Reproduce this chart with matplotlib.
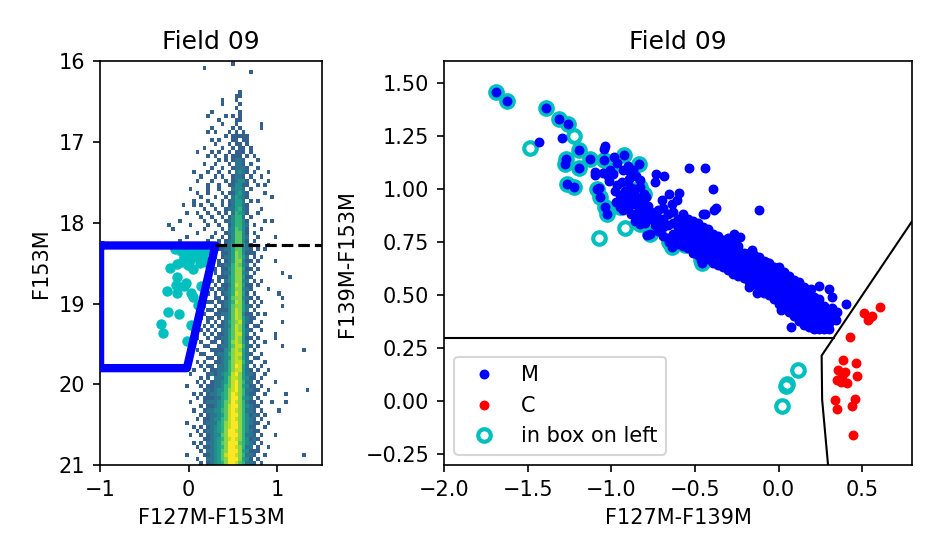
import numpy as np
import matplotlib
matplotlib.use("Agg")
import matplotlib.pyplot as plt
from matplotlib.colors import Normalize

# ---------------- data ----------------
title = "Field 09"

# Left panel: 2D histogram of F127M-F153M vs F153M, stored as per-row counts
hist_col_edges_start, hist_col_step, hist_ncol = -0.36, 0.04, 44
hist_mag_start, hist_mag_step = 16.0, 0.05
# each row: "col" (count 1), "col:level", "a-b:level"
hist_rows = [
    "21", "13", "26", "", "", "", "", "23", "22 23", "18 22",
    "18 23", "22", "15 23", "14 19 21 23", "17 22 23", "18 22 29", "15 21 23 29",
    "14 16 20 22 24", "19 21-25", "15 17 21 22 24 25",
    "16 20 22 23 25", "13 18 21 23 24 26", "11 15 17 20 22-24 26",
    "14 16 19 21-23 25 27", "17 19 21 22:2 23:2 24 28", "13 16 20 22:2 23:2 24 26",
    "15 18 21 22:2 23:2 24:2 25 28", "10 14 17 20 22:2 23:3 24:2 25 27 31",
    "12 16 18 21 22:2 23:2 24 26 29", "11 15 19 21 22:2 23:3 24:3 25 27 31",
    "14 17 20 21 22:3 23:3 24 25 28 30",
    "9 14 17 21:2 22:3 23:3 24:2 26",
    "11 14 18 20 21 22:3 23:4 24:2 25 30",
    "12 16 19 21:2 22:4 23:3 24:2 25 32",
    "10 14 18 20 21:2 22:4 23:4 24:2 26 28",
    "7 10 12 15 18 20 21:2 22:4 23:4 24:2 25",
    "13 16 19 20:2 21:2 22:4 23:5 24:2 25 29",
    "8 11 14 17 19 21:2 22:5 23:4 24:3 25 28",
    "12 15 18 20 21:3 22:5 23:5 24:2 26",
    "6 13 16 19 20:2 21:3 22:5 23:5 24:3 25 30 32",
    "3 9 14 17 20 21:3 22:5 23:5 24:3 25:2 27",
    "4 13 18 20:2 21:3 22:6 23:5 24:3 25 29",
    "11 16 19 20:2 21:3 22:6 23:6 24:3 25 27",
    "8 15 18 20 21:3 22:6 23:6 24:3 25:2 28 33",
    "6 14 17 19 20:2 21:3 22:6 23:6 24:3 25 27",
    "10 17 19 20:2 21:4 22:6 23:6 24:4 25:2 26 31",
    "15 17 18 19:2 20:2 21:4 22:6 23:6 24:3 25:2 26 28 30",
    "16 18 19 20:2 21:4 22:7 23:6 24:3 25 26 27",
    "16 18 19:2 20:2 21:4 22:7 23:6 24:4 25:2 27 29",
    "15 17 19 20:2 21:4 22:7 23:7 24:3 25 26 28 33",
    "17 18 19:2 20:2 21:5 22:7 23:6 24:3 25:2 27",
    "15 16 18 19 20:3 21:5 22:7 23:7 24:4 25 26 28",
    "16 18 19:2 20:2 21:5 22:7 23:7 24:3 25:2 27 35",
    "17 18 19 20:3 21:5 22:7 23:7 24:4 25 26 37",
    "15 17 19:2 20:3 21:5 22:7 23:7 24:3 25:2 27 29",
    "16 18 19 20:2 21:5 22:8 23:7 24:4 25 26 28",
    "15 17 18:2 19 20:3 21:5 22:7 23:7 24:3 25:2 26 31",
    "14 16 18 19:2 20:3 21:5 22:8 23:7 24:4 25 27 34",
    "16 17 19 20:3 21:6 22:7 23:7 24:3 25:2 26 28 35",
    "14 15 17 18 19:2 20:3 21:5 22:8 23:7 24:4 25 27 29",
    "13 16 18 19:2 20:3 21:6 22:7 23:7 24:4 25:2 26 28 35",
    "14 15 17 18 19 20:3 21:6 22:8 23:7 24:4 25:2 27",
    "13 16 17 18:2 19:2 20:3 21:6 22:8 23:7 24:3 25 26 28 30",
    "12 14 15 17 19:2 20:3 21:6 22:8 23:7 24:4 25:2 26 27",
    "14 16 18 19:2 20:4 21:6 22:7 23:8 24:4 25:2 26 29 35",
    "13 15 17 18 19:2 20:3 21:6 22:8 23:7 24:4 25 27 28",
    "12 14 16 18:2 19:2 20:4 21:6 22:8 23:7 24:4 25:2 26 29",
    "13 15 17 18 19:2 20:4 21:6 22:8 23:8 24:4 25:2 27 33",
    "11 14 16 17 18:2 19:2 20:4 21:6 22:8 23:7 24:4 25 26 28 33",
    "12 15 16 18 19:2 20:4 21:7 22:8 23:7 24:4 25:2 27 30",
    "13 14 17 18:2 19:2 20:4 21:6 22:8 23:8 24:5 25:2 26 28 35",
    "11 15 16 17 18 19:3 20:4 21:7 22:8 23:7 24:4 25:2 27 41",
    "12 13 16 17:2 18:2 19:3 20:5 21:7 22:8 23:8 24:4 25:2 26 29",
    "14 15 17 18:2 19:3 20:4 21:7 22:8 23:7 24:4 25:2 27 28",
    "11 13 16 17 18:2 19:3 20:5 21:7 22:8 23:8 24:5 25:2 26 30",
    "12 14 15 17:2 18:2 19:3 20:5 21:7 22:9 23:8 24:4 25:2 27 29",
    "10 13 15 16 17:2 18:2 19:3 20:5 21:7 22:8 23:8 24:4 25:2 26 28 31",
    "9 14 15:2 16 17:2 18:3 19:4 20:5 21:8 22:9 23:7 24:4 25:2 26:2 27 30",
    "12 14 16:2 17:2 18:2 19:4 20:6 21:8 22:8 23:7 24:4 25:3 26 27 29",
    "11 13 15 16:2 17:2 18:3 19:4 20:6 21:8 22:9 23:7 24:5 25:2 26:2 28 33",
    "8 12 14 15 16:2 17:2 18:3 19:5 20:6 21:8 22:9 23:7 24:4 25:3 26 27 29",
    "13 14:2 15 16:2 17:3 18:3 19:5 20:7 21:8 22:9 23:7 24:5 25:2 26:2 27 28 31 42",
    "10 12 14 15:2 16:2 17:3 18:4 19:5 20:7 21:9 22:8 23:7 24:5 25:2 26 27 30 36",
    "11 13 14 15 16:2 17:2 18:4 19:5 20:7 21:9 22:9 23:7 24:4 25:3 26:2 28",
    "9 13 14:2 15:2 16:2 17:3 18:4 19:6 20:7 21:9 22:8 23:7 24:5 25:2 26 27 29 32 36",
    "12 14 15 16:2 17:3 18:4 19:6 20:8 21:9 22:9 23:7 24:5 25:3 26:2 27 28",
    "10 13 14:2 15:2 16:3 17:3 18:5 19:6 20:8 21:9 22:8 23:7 24:5 25:2 26:2 27 29 34",
    "12 14 15:2 16:2 17:3 18:4 19:6 20:8 21:9 22:9 23:7 24:5 25:3 26 27:2 28 30",
    "11 13 14 15:2 16:3 17:3 18:5 19:6 20:8 21:9 22:8 23:7 24:5 25:3 26:2 27 29",
    "8 13 14:2 15:2 16:2 17:4 18:5 19:7 20:8 21:9 22:9 23:7 24:5 25:3 26:2 27 28 31",
    "10 12 14 15:2 16:3 17:4 18:5 19:7 20:8 21:9 22:9 23:7 24:5 25:3 26 27 30",
    "11 13 14:2 15:2 16:3 17:4 18:5 19:7 20:9 21:9 22:8 23:7 24:5 25:3 26:2 27 28",
    "9 12 14 15:2 16:3 17:3 18:6 19:7 20:9 21:9 22:9 23:7 24:5 25:2 26:2 27 29 33",
    "13 14 15:2 16:3 17:4 18:5 19:7 20:8 21:9 22:8 23:7 24:5 25:3 26 27:2 28",
    "10 12 14:2 15:2 16:3 17:4 18:6 19:7 20:9 21:9 22:9 23:6 24:5 25:3 26:2 27 29",
    "11 13 14 15:2 16:3 17:4 18:5 19:7 20:9 21:9 22:8 23:7 24:5 25:2 26:2 28 31",
    "12 14:2 15:2 16:3 17:4 18:6 19:7 20:9 21:9 22:9 23:7 24:4 25:3 26 27 28",
    "8 13 14 15:2 16:3 17:4 18:6 19:8 20:9 21:9 22:8 23:7 24:5 25:2 26:2 27 30 41",
    "11 14:2 15:2 16:3 17:4 18:6 19:7 20:9 21:9 22:9 23:7 24:4 25:3 26 28",
    "12 14 15:2 16:3 17:4 18:5 19:7 20:9 21:9 22:8 23:6 24:5 25:2 26:2 27 29",
]

# Left panel: stars inside the selection box
box_left_color = [-0.155, -0.091, -0.024, 0.032, 0.089, 0.145, 0.201, -0.054, 0.013,
                  0.081, 0.156, -0.137, -0.073, -0.005, 0.051, 0.126, 0.194, -0.212,
                  -0.129, -0.032, -0.054, 0.134, -0.249, -0.137, 0.021, 0.051, 0.107,
                  -0.230, -0.107, -0.313, -0.294, 0.021, -0.017, -0.144]
box_left_mag = [18.327, 18.348, 18.327, 18.377, 18.335, 18.355, 18.335, 18.427, 18.46,
                18.41, 18.44, 18.509, 18.48, 18.52, 18.576, 18.50, 18.48, 18.563,
                18.667, 18.741, 18.782, 18.782, 18.84, 18.872, 18.872, 18.914, 19.017,
                19.10, 19.129, 19.253, 19.36, 19.265, 19.46, 18.77]

# selection box and cut line (left panel)
box_poly_color = [-1.0, 0.30, -0.02, -1.0, -1.0]
box_poly_mag = [18.28, 18.28, 19.80, 19.80, 18.28]
cut_color = [0.30, 1.5]
cut_mag = [18.28, 18.28]

# Right panel: M-type stars (scattered)
M_x = [-1.69, -1.625, -1.389, -1.311, -1.256, -1.192, -1.269, -1.275, -1.192, -1.126,
       -1.046, -1.006, -0.926, -0.836, -1.265, -1.226, -1.086, -1.066, -1.036, -1.026,
       -0.946, -0.826, -0.806, -0.826, -0.766, -0.657, -0.637, -0.557, -0.467, -0.457,
       -1.435, -1.292, -1.036, -1.046, -0.986, -0.966, -1.096, -1.096, -1.05, -1.076,
       -1.016, -0.966, -0.936, -0.896, -0.886, -0.786, -0.537, -0.443, -0.731, -0.683,
       -0.737, -0.391, -0.657, -0.597, -0.607, -0.377, -0.387, -0.451, -0.443, -0.118,
       -0.268, -0.232, -0.158, -0.078, -0.068, -0.178, -0.128, 0.301, 0.321, 0.401,
       0.341, 0.072, 0.192, 0.012, 0.321, 0.35, 0.24,
       -0.98, -0.95, -0.92, -0.89, -0.86, -0.97, -0.94, -0.91, -0.88, -0.85, -0.82,
       -0.79, -0.93, -0.90, -0.87, -0.84, -0.81, -0.78, -0.88, -0.85, -0.82, -0.79,
       -0.76, -0.86, -0.80, -0.76, -0.73, -0.74, -0.70, -1.02, -0.99, -0.93, -0.90,
       -0.87, -0.85, -0.83, -0.70, -0.64]
M_y = [1.455, 1.413, 1.380, 1.330, 1.307, 1.181, 1.142, 1.119, 1.100, 1.142,
       1.134, 1.087, 1.158, 1.119, 1.022, 1.009, 1.001, 0.962, 0.915, 0.884,
       0.915, 1.009, 0.978, 0.837, 0.790, 0.751, 0.727, 0.735, 0.665, 0.649,
       1.223, 1.239, 1.201, 1.189, 1.15, 1.123, 1.079, 1.064, 1.075, 1.006,
       1.036, 1.017, 1.032, 1.048, 1.079, 0.782, 1.10, 1.10, 1.072, 1.059,
       1.032, 1.001, 0.975, 0.981, 0.950, 0.912, 0.90, 0.884, 0.881, 0.903,
       0.79, 0.774, 0.712, 0.657, 0.641, 0.539, 0.508, 0.527, 0.49, 0.457,
       0.383, 0.352, 0.527, 0.43, 0.438, 0.42, 0.545,
       0.99, 0.97, 0.99, 1.01, 1.00, 0.94, 0.94, 0.95, 0.97, 0.96, 0.95,
       0.96, 0.90, 0.91, 0.93, 0.92, 0.91, 0.92, 0.88, 0.88, 0.87, 0.88,
       0.89, 0.85, 0.84, 0.86, 0.87, 0.83, 0.85, 1.06, 1.07, 1.09, 1.11,
       1.09, 1.06, 1.04, 0.95, 0.93]

# Right panel: M-type stars in the dense sequence, listed column by column
M_band = {
    -0.72: [0.80, 0.84, 0.90],
    -0.69: [0.78, 0.82, 0.86, 0.91],
    -0.66: [0.77, 0.83, 0.88],
    -0.63: [0.75, 0.79, 0.84, 0.89],
    -0.60: [0.74, 0.78, 0.82, 0.86],
    -0.57: [0.73, 0.77, 0.81, 0.85, 0.88],
    -0.54: [0.72, 0.76, 0.79, 0.83, 0.86],
    -0.51: [0.70, 0.74, 0.78, 0.82, 0.85],
    -0.48: [0.69, 0.72, 0.76, 0.80, 0.84],
    -0.45: [0.68, 0.71, 0.75, 0.78, 0.82],
    -0.42: [0.67, 0.70, 0.73, 0.77, 0.81],
    -0.39: [0.65, 0.68, 0.72, 0.75, 0.79],
    -0.36: [0.64, 0.67, 0.70, 0.74, 0.78],
    -0.33: [0.63, 0.66, 0.69, 0.72, 0.76],
    -0.30: [0.62, 0.65, 0.68, 0.71, 0.74, 0.77],
    -0.27: [0.60, 0.63, 0.66, 0.69, 0.72, 0.75],
    -0.24: [0.59, 0.62, 0.65, 0.68, 0.71, 0.73],
    -0.21: [0.58, 0.61, 0.64, 0.67, 0.70],
    -0.18: [0.56, 0.59, 0.62, 0.65, 0.68, 0.70],
    -0.15: [0.55, 0.58, 0.61, 0.64, 0.67, 0.69],
    -0.12: [0.53, 0.56, 0.59, 0.62, 0.65, 0.68],
    -0.09: [0.51, 0.54, 0.57, 0.60, 0.63, 0.66],
    -0.06: [0.50, 0.53, 0.56, 0.59, 0.62, 0.65],
    -0.03: [0.48, 0.51, 0.54, 0.57, 0.60, 0.63],
    0.00: [0.46, 0.49, 0.52, 0.55, 0.58, 0.61, 0.63],
    0.03: [0.44, 0.47, 0.50, 0.53, 0.56, 0.59, 0.61],
    0.06: [0.42, 0.45, 0.48, 0.51, 0.54, 0.57, 0.59],
    0.09: [0.40, 0.43, 0.46, 0.49, 0.52, 0.55, 0.57],
    0.12: [0.38, 0.41, 0.44, 0.47, 0.50, 0.53, 0.56],
    0.15: [0.36, 0.39, 0.42, 0.45, 0.48, 0.51, 0.54],
    0.18: [0.35, 0.38, 0.41, 0.44, 0.47, 0.50, 0.52],
    0.21: [0.34, 0.37, 0.40, 0.43, 0.46, 0.49],
    0.24: [0.34, 0.37, 0.40, 0.43, 0.46, 0.48],
    0.27: [0.34, 0.37, 0.40, 0.43, 0.45],
    0.30: [0.34, 0.37, 0.40],
}

# Right panel: C-type stars
C_x = [0.607, 0.511, 0.541, 0.557, 0.535, 0.427, 0.387, 0.461, 0.355, 0.395, 0.471,
       0.351, 0.371, 0.407, 0.381, 0.337, 0.457, 0.351, 0.441, 0.447]
C_y = [0.446, 0.417, 0.391, 0.402, 0.383, 0.302, 0.195, 0.18, 0.148, 0.136, 0.117,
       0.101, 0.089, 0.086, 0.117, 0.0075, 0.012, -0.035, -0.024, -0.157]

# Right panel: stars in box on left
box_x = [-1.69, -1.625, -1.389, -1.311, -1.256, -1.222, -1.489, -1.192, -1.269, -1.275,
         -1.192, -1.126, -1.046, -1.006, -0.926, -0.836, -1.265, -1.226, -1.086, -1.066,
         -1.036, -1.026, -0.946, -0.826, -0.806, -0.916, -1.072, -0.826, -0.766, -0.657,
         -0.637, -0.557, -0.467, -0.457, 0.116, 0.042, 0.052, 0.018]
box_y = [1.455, 1.413, 1.380, 1.330, 1.307, 1.247, 1.194, 1.181, 1.142, 1.119,
         1.100, 1.142, 1.134, 1.087, 1.158, 1.119, 1.022, 1.009, 1.001, 0.962,
         0.915, 0.884, 0.915, 1.009, 0.978, 0.814, 0.767, 0.837, 0.790, 0.751,
         0.727, 0.735, 0.665, 0.649, 0.148, 0.070, 0.081, -0.024]

# Right panel: classification boundaries
hcut_x = [-2.0, 0.331]
hcut_y = [0.30, 0.30]
diag_x = [0.301, 0.26, 0.257, 0.86]
diag_y = [-0.35, 0.0075, 0.215, 0.921]

# ---------------- build histogram grid ----------------
nrow = len(hist_rows)
grid = np.zeros((nrow, hist_ncol))
for i, row in enumerate(hist_rows):
    for tok in row.split():
        if ":" in tok:
            idx, lv = tok.split(":")
            lv = int(lv)
        else:
            idx, lv = tok, 1
        if "-" in idx:
            a, b = map(int, idx.split("-"))
        else:
            a = b = int(idx)
        for j in range(a, b + 1):
            grid[i, j] = lv
xedges = hist_col_edges_start + hist_col_step * np.arange(hist_ncol + 1)
yedges = hist_mag_start + hist_mag_step * np.arange(nrow + 1)
grid_m = np.ma.masked_equal(grid, 0)

bx = []
by = []
for xv, ys in M_band.items():
    for yv in ys:
        bx.append(xv)
        by.append(yv)
Mx_all = list(M_x) + bx
My_all = list(M_y) + by

# ---------------- plot ----------------
fig = plt.figure(figsize=(951 / 150, 559 / 150), dpi=150)
ax1 = fig.add_axes([0.1052, 0.1682, 0.2331, 0.7218])
ax2 = fig.add_axes([0.4669, 0.1682, 0.4926, 0.7218])

ax1.pcolormesh(xedges, yedges, grid_m, cmap="viridis",
               norm=Normalize(vmin=-2.5, vmax=9), zorder=1)
ax1.plot(box_left_color, box_left_mag, "c.", ms=8, zorder=3)
ax1.plot(box_poly_color, box_poly_mag, "b-", lw=4, zorder=4)
ax1.plot(cut_color, cut_mag, "k--", lw=1.5, zorder=4)
ax1.set_xlim(-1, 1.5)
ax1.set_ylim(21, 16)
ax1.set_xticks([-1, 0, 1])
ax1.set_yticks([16, 17, 18, 19, 20, 21])
ax1.set_xlabel("F127M-F153M")
ax1.set_ylabel("F153M")
ax1.set_title(title)

ax2.plot(Mx_all, My_all, "b.", ms=7.5, label="M", zorder=2)
ax2.plot(C_x, C_y, "r.", ms=7.5, label="C", zorder=2)
ax2.plot(box_x, box_y, "o", mfc="none", mec="c", mew=2, ms=6,
         label="in box on left", zorder=1.5)
ax2.plot(hcut_x, hcut_y, "k-", lw=1.0, zorder=3)
ax2.plot(diag_x, diag_y, "k-", lw=1.0, zorder=3)
ax2.set_xlim(-2.0, 0.8)
ax2.set_ylim(-0.3, 1.6)
ax2.set_xticks([-2.0, -1.5, -1.0, -0.5, 0.0, 0.5])
ax2.set_yticks([-0.25, 0.0, 0.25, 0.5, 0.75, 1.0, 1.25, 1.5])
ax2.set_xlabel("F127M-F139M")
ax2.set_ylabel("F139M-F153M")
ax2.set_title(title)
ax2.legend(loc="lower left")

fig.savefig("out.png", dpi=150)
